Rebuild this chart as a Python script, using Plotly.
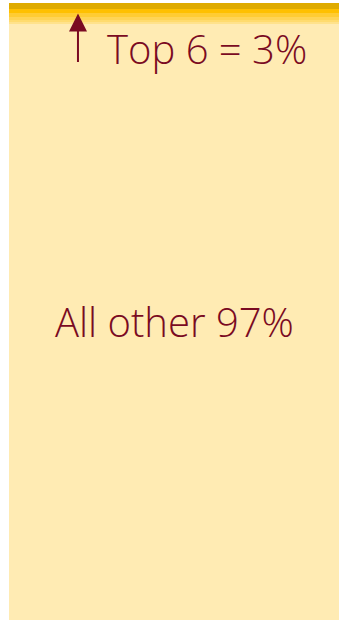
import plotly.graph_objects as go

# Share of total (%) for the six largest items, largest first, and the remainder
top_items = ["#1", "#2", "#3", "#4", "#5", "#6"]
top_shares = [0.95, 0.75, 0.6, 0.4, 0.35, 0.35]
other_label = "All other"
other_share = 96.6

top_colors = ["#DFAB00", "#FFC000", "#FFCC33", "#FFD455", "#FFDB6E", "#FFE28C"]
other_color = "#FFEBB3"
text_color = "#7A0A22"

fig = go.Figure()

# Remainder sits at the bottom of the stack
fig.add_trace(go.Bar(
    x=[0], y=[other_share], name=other_label,
    marker=dict(color=other_color, line=dict(width=0)),
    hoverinfo="skip",
))

# Smallest of the top six first so the largest ends up on top
for name, share, color in reversed(list(zip(top_items, top_shares, top_colors))):
    fig.add_trace(go.Bar(
        x=[0], y=[share], name=name,
        marker=dict(color=color, line=dict(width=0)),
        hoverinfo="skip",
    ))

total = other_share + sum(top_shares)
font_family = "Open Sans"

annotations = [
    # remainder label, centred in its segment
    dict(x=0, y=other_share / 2, xref="x", yref="y",
         text=f"{other_label} {round(other_share)}%", showarrow=False,
         font=dict(family=font_family, size=40, color=text_color, weight=300),
         xanchor="center", yanchor="middle"),
    # top six label
    dict(x=0.29, y=0.926, xref="paper", yref="paper",
         text=f"Top {len(top_items)} = {round(sum(top_shares))}%", showarrow=False,
         font=dict(family=font_family, size=40, color=text_color, weight=300),
         xanchor="left", yanchor="middle"),
    # arrow pointing up at the top six
    dict(x=0.209, y=0.983, xref="paper", yref="paper",
         text="", showarrow=True, ax=0, ay=50,
         arrowhead=2, arrowsize=1.8, arrowwidth=2, arrowcolor=text_color,
         standoff=0, startstandoff=0),
]

fig.update_layout(
    width=347, height=620,
    margin=dict(l=9, r=8, t=3, b=0),
    barmode="stack", bargap=0,
    showlegend=False,
    paper_bgcolor="white", plot_bgcolor="white",
    xaxis=dict(visible=False, range=[-0.5, 0.5], fixedrange=True),
    yaxis=dict(visible=False, range=[0, total], fixedrange=True),
    annotations=annotations,
)

fig.write_html("out.html", config={"displayModeBar": False})
